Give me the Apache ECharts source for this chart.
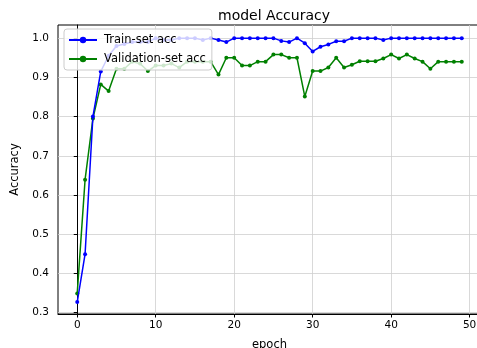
<!DOCTYPE html>
<html>
<head>
<meta charset="utf-8">
<script src="https://cdn.jsdelivr.net/npm/echarts@6/dist/echarts.min.js"></script>
<style>html,body{margin:0;padding:0;background:#fff;}#c{width:477px;height:348px;}</style>
</head>
<body>
<div id="c"></div>
<script>
const epochs = [];
for (let i = 0; i < 50; i++) epochs.push(i);
const trainAcc = [0.327,0.449,0.80,0.915,0.955,0.98,0.985,0.99,0.99,0.99,
  1.0,0.995,0.995,1.0,1.0,1.0,0.995,1.0,0.995,0.99,
  1.0,1.0,1.0,1.0,1.0,1.0,0.993,0.99,1.0,0.987,
  0.966,0.978,0.984,0.992,0.992,1.0,1.0,1.0,1.0,0.995,
  1.0,1.0,1.0,1.0,1.0,1.0,1.0,1.0,1.0,1.0];
const valAcc = [0.349,0.639,0.795,0.882,0.865,0.922,0.922,0.94,0.935,0.916,
  0.93,0.93,0.935,0.925,0.94,0.94,0.94,0.94,0.907,0.95,
  0.95,0.93,0.93,0.94,0.94,0.958,0.958,0.95,0.95,0.851,
  0.916,0.916,0.925,0.95,0.925,0.932,0.941,0.941,0.941,0.948,
  0.958,0.948,0.958,0.948,0.94,0.922,0.94,0.94,0.94,0.94];
const xTicks = [0,10,20,30,40,50];
const yTicks = [0.3,0.4,0.5,0.6,0.7,0.8,0.9,1.0];
const seriesNames = ['Train-set acc','Validation-set acc'];

const font = 'DejaVu Sans';
const chart = echarts.init(document.getElementById('c'), null, {renderer:'canvas'});
const mk = (arr) => arr.map((v,i) => [epochs[i], v]);
chart.setOption({
  animation: false,
  backgroundColor: '#fff',
  title: {
    text: 'model Accuracy', left: 269, top: 4, textAlign: 'center',
    textStyle: {fontFamily: font, fontSize: 14, fontWeight: 'normal', color: '#000'}
  },
  legend: {
    left: 64, top: 29, orient: 'vertical',
    data: seriesNames,
    itemWidth: 28, itemHeight: 8, itemGap: 7,
    padding: [5, 6, 5, 4],
    backgroundColor: 'rgba(255,255,255,0.8)',
    borderColor: '#cccccc', borderWidth: 1, borderRadius: 3,
    textStyle: {fontFamily: font, fontSize: 11.5, color: '#000', padding: [0,0,0,2]}
  },
  grid: {left: 58, top: 25, right: -4, bottom: 34, outerBoundsMode: 'none', containLabel: false,
    show: true, borderColor: '#000', borderWidth: 1, backgroundColor: 'transparent'},
  xAxis: {
    type: 'value', min: -2.45, max: 51.45,
    name: 'epoch', nameLocation: 'middle', nameGap: 25,
    nameTextStyle: {fontFamily: font, fontSize: 11.5, color: '#000'},
    axisLine: {show: true, lineStyle: {color: '#000', width: 1}},
    axisTick: {show: true, length: 3.5, customValues: xTicks, lineStyle: {color: '#000'}},
    axisLabel: {customValues: xTicks, fontFamily: font, fontSize: 10.5, color: '#000', margin: 6},
    splitLine: {show: true, lineStyle: {color: '#cfcfcf', width: 0.8}}
  },
  yAxis: {
    type: 'value', min: 0.2965, max: 1.0335,
    name: 'Accuracy', nameLocation: 'middle', nameGap: 29, nameRotate: 90,
    nameTextStyle: {fontFamily: font, fontSize: 11.5, color: '#000'},
    axisLine: {show: true, lineStyle: {color: '#000', width: 1}},
    axisTick: {show: true, length: 3.5, customValues: yTicks, lineStyle: {color: '#000'}},
    axisLabel: {customValues: yTicks, fontFamily: font, fontSize: 10.5, color: '#000', margin: 9,
      formatter: v => v.toFixed(1)},
    splitLine: {show: true, lineStyle: {color: '#cfcfcf', width: 0.8}}
  },
  series: [
    {name: seriesNames[0], type: 'line', data: mk(trainAcc), symbol: 'circle', symbolSize: 4,
     lineStyle: {color: '#0000ff', width: 1.5}, itemStyle: {color: '#0000ff'}, z: 3},
    {name: seriesNames[1], type: 'line', data: mk(valAcc), symbol: 'circle', symbolSize: 4,
     lineStyle: {color: '#008000', width: 1.5}, itemStyle: {color: '#008000'}, z: 2}
  ]
});
</script>
</body>
</html>
